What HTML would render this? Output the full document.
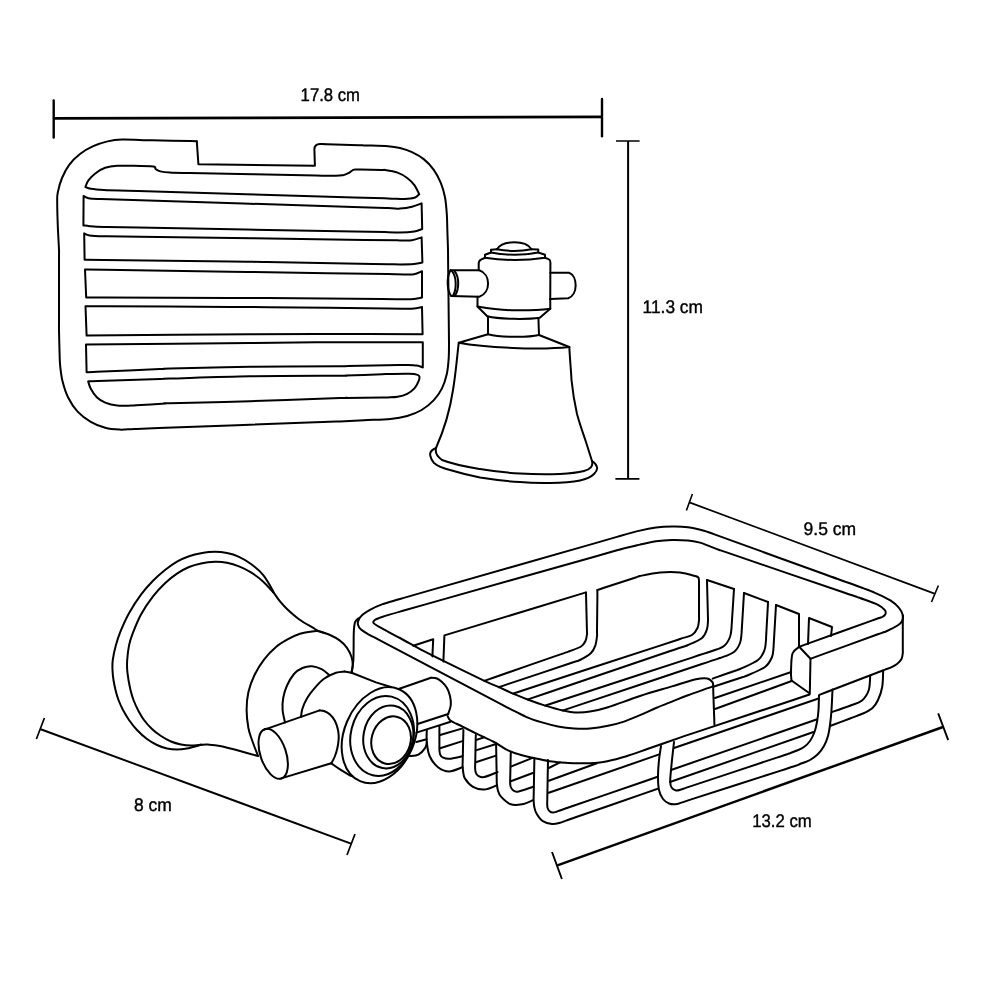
<!DOCTYPE html>
<html lang="en">
<head>
<meta charset="utf-8">
<title>Soap dish dimensions</title>
<style>
html,body{margin:0;padding:0;background:#fff;}
body{width:1000px;height:1000px;overflow:hidden;}
svg{display:block;will-change:transform;}
.l{fill:none;stroke:#000;stroke-width:2;stroke-linecap:round;stroke-linejoin:round;}
.w{fill:#fff;stroke:#000;stroke-width:2;stroke-linecap:round;stroke-linejoin:round;}
.t{font-family:"Liberation Sans",sans-serif;font-size:18.2px;fill:#000;stroke:#000;stroke-width:0.4;text-rendering:geometricPrecision;}
</style>
</head>
<body>
<svg width="1000" height="1000" viewBox="0 0 1000 1000">
<rect x="0" y="0" width="1000" height="1000" fill="#fff"/>
<!-- dimension lines -->
<g fill="none" stroke="#000" stroke-linecap="butt">
<path d="M53.7 118.4 L602 116.8" stroke-width="2.7"/>
<path d="M53.7 100.4 V137.6" stroke-width="2.4" stroke-linecap="round"/>
<path d="M602 99 V136.2" stroke-width="2.4" stroke-linecap="round"/>
<path d="M628.1 141 V478.8" stroke-width="2"/>
<path d="M616 141 H639.6 M615.4 478.8 H639.4" stroke-width="1.7"/>
<path d="M40 729 L351 843.6" stroke-width="1.95"/>
<path d="M44.4 718 L36.4 739 M355 834 L347 855" stroke-width="1.7"/>
<path d="M689.4 502.4 L934.5 593.6" stroke-width="1.7"/>
<path d="M692.4 494 L686.4 510.5 M938.4 585.5 L931.5 602" stroke-width="1.6"/>
<path d="M557.4 865.3 L943 727" stroke-width="2.45"/>
<path d="M552 852 L561.9 879 M938.2 713.3 L948.2 740.2" stroke-width="1.9"/>
</g>
<text class="t" x="300.6" y="101.4" textLength="59.4" lengthAdjust="spacingAndGlyphs">17.8 cm</text>
<text class="t" x="642.6" y="312.8" textLength="60.4" lengthAdjust="spacingAndGlyphs">11.3 cm</text>
<text class="t" x="134" y="810.6" textLength="37.9" lengthAdjust="spacingAndGlyphs">8 cm</text>
<text class="t" x="803.6" y="535.4" textLength="52.5" lengthAdjust="spacingAndGlyphs">9.5 cm</text>
<text class="t" x="752.2" y="827.1" textLength="59.6" lengthAdjust="spacingAndGlyphs">13.2 cm</text>
<!-- top view: tray -->
<path class="l" d="M196.8 141.2 C195.8 141.2 198.2 141.2 190.7 141.1 C183.3 140.9 159.5 140.5 152.1 140.3 C144.6 140.2 151 140.3 146 140.2 C141 140.1 128.4 139.4 122 139.6 C115.6 139.8 112.4 140.3 107.6 141.4 C102.8 142.5 97.8 144.1 93.2 146.2 C88.6 148.3 84 150.9 80 154 C76 157.1 72.2 160.8 69.2 164.8 C66.2 168.8 63.9 173.4 62 178 C60.1 182.6 58.6 188.4 57.8 192.4 C57 196.4 57.2 196.4 57.2 202 C57.2 207.6 57.5 218 57.8 226 C58.1 234 58.8 244.4 59 250 C59.2 255.6 59 247.9 59 259.6 C59 271.3 59 308.7 59 320.4 C59 332.1 58.9 324.4 59 330 C59.1 335.6 59.4 348 59.6 354 C59.8 360 59.7 361.4 60.2 366 C60.7 370.6 61.3 376.4 62.6 381.6 C63.9 386.8 65.5 392.2 68 397.2 C70.5 402.2 73.8 407.5 77.6 411.6 C81.4 415.7 86.2 419.1 90.8 421.8 C95.4 424.5 100.4 426.5 105.2 427.8 C110 429.1 114.8 429.4 119.6 429.6 C124.4 429.8 127.5 429.3 134 429 C140.5 428.7 128.5 429.2 158.7 428.1 C188.9 427 285.1 423.4 315.3 422.3 C345.5 421.2 331.9 421.8 340 421.4 C348.1 421 355.6 420.6 364 420.2 C372.4 419.8 383.2 419.7 390.4 419 C397.6 418.3 402 417.5 407.2 416 C412.4 414.5 417.2 412.6 421.6 410 C426 407.4 430.2 404 433.6 400.4 C437 396.8 439.8 392.8 442 388.4 C444.2 384 445.7 378.8 446.8 374 C447.9 369.2 448.2 364.6 448.6 359.6 C449 354.6 449 348.5 449 344 C449 339.5 449 346.5 448.9 332.7 C448.7 318.9 448.3 275.1 448.1 261.3 C448 247.5 448.1 254.9 448 250 C447.9 245.1 447.6 238 447.4 232 C447.2 226 447.2 219.8 446.8 214 C446.4 208.2 446 202.4 445 197.2 C444 192 442.7 187.4 440.8 182.8 C438.9 178.2 436.4 173.5 433.6 169.6 C430.8 165.7 427.6 162.3 424 159.4 C420.4 156.5 416 154.1 412 152.2 C408 150.3 404 149 400 148 C396 147 394 146.6 388 146.2 C382 145.8 368.8 145.6 364 145.4 C359.2 145.2 365.1 145.4 359 145.2 C352.8 145 333.2 144.4 327 144.2 C320.9 144 322.8 144 322 144"/>
<path class="l" d="M196.8 141.2 L198.4 164.2 L314.9 165.8 L314.4 149.5 Q314.4 144 320 143.95 L322 144"/>
<path class="l" d="M85.4 187 C85.9 185.9 86.7 182.7 88.4 180.4 C90.1 178.1 92.8 175.3 95.6 173.2 C98.4 171.1 101.6 169 105.2 167.8 C108.8 166.6 112.4 166.1 117.2 165.8 C122 165.5 128 165.7 134 165.8 C140 165.9 149.6 166.1 153.2 166.6 C156.8 167.1 154.4 168.2 155.6 169 C156.8 169.8 158 170.8 160.4 171.4 C162.8 172 165.1 172.3 170 172.6 C174.9 172.9 165.6 172.5 189.9 173 C214.3 173.5 291.7 174.9 316.1 175.4 C340.4 175.9 331.5 175.8 336 175.8 C340.5 175.8 340.9 175.6 343 175.2 C345.1 174.8 346.7 174.1 348.4 173.2 C350.1 172.3 351.8 170.4 353.2 169.8 C354.6 169.2 355.8 169.6 357 169.6 C358.2 169.6 356.3 169.6 360.4 169.6 C364.5 169.7 377.5 169.9 381.6 170 C385.7 170 382.3 169.6 385 170 C387.7 170.4 393.9 171.3 397.6 172.6 C401.3 173.9 404.4 175.9 407.2 178 C410 180.1 412.4 182.5 414.4 185.2 C416.4 187.9 418.4 192.7 419.2 194.2 M419.2 194.2 C418.4 194.8 416.8 197 414.4 197.8 C412 198.6 409.2 198.9 404.8 199 C400.4 199.1 396.5 198.7 388 198.4 C379.5 198.1 395.6 198.6 353.9 197.4 C312.3 196.2 179.7 192.2 138.1 191 C96.4 189.8 111.9 190.4 104 190 C96.1 189.6 93.9 189.3 90.8 188.8 C87.7 188.3 86.3 187.3 85.4 187"/>
<path class="l" d="M83.6 196 C84.4 196.4 86 197.7 88.4 198.2 C90.8 198.7 90.6 198.7 98 199 C105.4 199.3 90.3 198.8 132.8 200.1 C175.3 201.4 310.7 205.6 353.2 206.9 C395.7 208.2 380.2 207.7 388 208 C395.8 208.3 396 208.8 400 208.6 C404 208.4 408.4 207.7 412 206.8 C415.6 205.9 420 204 421.6 203.4 M421.6 203.4 L422.2 229 M422.2 229 C420.9 229.4 418.1 230.8 414.4 231.4 C410.7 232 404.4 232.5 400 232.6 C395.6 232.7 395.7 232.4 388 232.2 C380.3 232 395.6 232.3 353.9 231.6 C312.3 230.8 179.7 228.4 138.1 227.6 C96.4 226.9 112.1 227.2 104 227 C95.9 226.8 93 226.5 89.6 226.2 C86.2 225.9 84.4 225.5 83.4 225.4 M83.4 225.4 L83.6 196"/>
<path class="l" d="M84.2 233.4 C85.1 233.7 86.3 234.9 89.6 235.4 C92.9 235.9 95.7 236 104 236.2 C112.3 236.4 96.1 236.1 139.5 236.7 C182.9 237.3 321.1 239.3 364.5 239.9 C407.9 240.5 392.1 240.3 400 240.4 C407.9 240.5 408.4 240.7 412 240.2 C415.6 239.7 420 237.9 421.6 237.4 M421.6 237.4 L422.4 262.5 M422.4 262.5 C421 262.8 417.7 263.7 414 264 C410.3 264.3 404 264.4 400 264.4 C396 264.4 394.5 264.3 390 264.2 C385.5 264.2 393.7 264.3 373.2 263.9 C352.7 263.6 287.3 262.4 266.8 262.1 C246.3 261.7 256.1 261.8 250 261.8 C243.9 261.7 254.4 261.8 230.2 261.5 C205.9 261.2 128.7 260.3 104.4 260 C80.2 259.7 87.9 259.8 84.6 259.8 M84.6 259.8 L84.2 233.4"/>
<path class="l" d="M85 269.5 C88.3 269.6 80.6 269.4 104.8 269.8 C129 270.2 206 271.3 230.2 271.7 C254.4 272.1 243.6 271.9 250 272 C256.4 272.1 245.8 271.9 268.7 272.3 C291.6 272.6 364.4 273.8 387.3 274.1 C410.2 274.5 401.5 274.4 406 274.4 C410.5 274.4 411.3 274.7 414 274.2 C416.7 273.7 420.7 271.7 422 271.2 M422 271.2 L422 297.5 M422 297.5 C420.7 297.8 417.7 298.7 414 299 C410.3 299.3 405.3 299.2 400 299.2 C394.7 299.3 404 299.3 382 299.1 C360 298.9 290 298.3 268 298.1 C246 298 256.3 298 250 298 C243.7 298 254.4 298 230.3 297.9 C206.3 297.9 129.9 297.6 105.9 297.6 C81.9 297.5 89.5 297.5 86.2 297.5 M86.2 297.5 L85 269.5"/>
<path class="l" d="M85.5 306.2 C88.8 306.3 81.1 306.2 105.2 306.3 C129.4 306.4 206.1 306.8 230.3 306.9 C254.4 307 243.6 307 250 307 C256.4 307 245.8 307 268.7 307.2 C291.6 307.5 364.4 308.2 387.3 308.5 C410.2 308.7 401.5 308.7 406 308.7 C410.5 308.7 411.3 308.8 414 308.5 C416.7 308.2 420.7 307.2 422 307 M422 307 L422.6 334.3 M422.6 334.3 C408.8 334.2 368.8 333.9 340 333.9 C311.2 333.9 292.2 334 250 334.2 C207.8 334.5 113.8 335.4 86.6 335.6 M86.6 335.6 L85.5 306.2"/>
<path class="l" d="M86 344.5 C113.3 344.2 207.7 343.4 250 343 C292.3 342.6 311.2 342.3 340 342.2 C368.8 342.1 409 342.2 422.8 342.2 M422.8 342.2 L422.8 367.4 M422.8 367.4 C421.8 367.1 419.4 366 416.8 365.6 C414.2 365.2 410.1 365.1 407.2 365 C404.3 364.9 409 365 399.1 365.1 C389.3 365.3 357.9 365.9 348.1 366.1 C338.2 366.2 356.3 366.1 340 366.2 C323.7 366.3 278.3 366.4 250 366.8 C221.7 367.2 185 368.2 170 368.6 C155 369 172.2 368.5 160 369 C147.8 369.6 108.8 371.2 96.6 371.8 C84.4 372.3 88.3 372.1 86.6 372.2 M86.6 372.2 L86 344.5"/>
<path class="l" d="M88.2 381.4 C89.8 381.3 86 381.5 98 381.1 C110 380.7 148.2 379.3 160.2 378.9 C172.2 378.5 155 379 170 378.6 C185 378.2 221.7 376.8 250 376.3 C278.3 375.8 324 375.9 340 375.8 C356 375.7 338.7 375.8 345.8 375.6 C352.8 375.3 375.2 374.5 382.2 374.2 C389.3 374 383.4 374.1 388 374 C392.6 373.9 404.8 373.7 409.6 373.8 C414.4 373.9 415.2 374.1 416.8 374.6 C418.4 375.1 419.1 375.5 419.4 376.6 C419.7 377.7 419.4 379.2 418.6 381.2 C417.8 383.2 416.3 386.3 414.4 388.4 C412.5 390.5 410 392.4 407.2 393.8 C404.4 395.2 400.8 396.2 397.6 396.8 C394.4 397.4 390.6 397.3 388 397.4 C385.4 397.5 389.3 397.4 382.2 397.5 C375.2 397.6 352.8 397.8 345.8 397.9 C338.7 398 356 397.5 340 398 C324 398.5 278.3 400.3 250 401.2 C221.7 402.1 184.1 402.8 170 403.2 C155.9 403.6 171 403.1 165.4 403.5 C159.8 403.8 141.8 405 136.2 405.3 C130.6 405.7 134.8 405.6 131.6 405.6 C128.4 405.6 121.6 406.1 117.2 405.6 C112.8 405.1 108.6 404 105.2 402.6 C101.8 401.2 99.2 399.5 96.8 397.2 C94.4 394.9 92.2 391.4 90.8 388.8 C89.4 386.2 88.6 382.6 88.2 381.4"/>
<!-- top view: bracket -->
<path class="l" d="M450.5 270.2 L479.3 270.2 C491 274 491 293 479.3 296.75 L451.25 296"/>
<path class="l" d="M450.5 270.2 C446.6 277 446.6 290 451.25 296"/>
<path class="l" d="M452 271.2 C456.8 277 456.8 290 452.75 296"/>
<path class="l" d="M454.6 271.2 C459.4 277 459.4 290 454.6 296"/>
<path class="l" d="M550.25 272.75 L569 272.75 C578 276 578 295 568.25 298.25 L550.25 299"/>
<path class="l" d="M497 249.2 C503 240 525.5 240 531.5 249.2"/>
<path class="l" d="M497 249.2 C507 251.2 521.5 251.2 531.5 249.2"/>
<path class="l" d="M497 249.2 L491 249.8 L491 252.5 C505 255.5 524 255.5 538.25 252.5 L538.25 249.5 L531.5 249.2"/>
<path class="l" d="M491 252.5 L485 254.75 L485 257.75 C503 260.4 527 260.4 545 257.75 L545 254.75 L538.25 252.5"/>
<path class="l" d="M485 257.75 L481 259.6 Q478.7 260.8 478.7 263.5 L478.7 270.2"/>
<path class="l" d="M545 257.75 L548.5 259.2 Q550.4 260 550.4 262.5 L550.25 299"/>
<path class="l" d="M477.5 296.75 L477.5 306.5 C492 309 505 310.25 515 310.25 C528 310.4 540 310 550.25 308.75 L550.25 299"/>
<path class="l" d="M477.5 306.5 L487.25 316.25 C500 319.3 527 319.6 539.75 317.75 L550.25 308.75"/>
<path class="l" d="M488 316.4 L488 334.25 C500 337.3 527 337.8 539 335 L538.4 317.9"/>
<path class="l" d="M488 334.25 L458.75 342.8 C485 347.8 540 350.2 569.3 347"/>
<path class="l" d="M539 335 L569.3 347"/>
<path class="l" d="M458.75 342.8 C457.5 352 456 372 453 390 C450 410 444 430 436 448"/>
<path class="l" d="M569.3 347 C570 360 571 370 571.5 380 C573 395 575 405 577 414 C580 425 583 433 586 442 L592 461"/>
<path class="l" d="M436 448 C435 452 436.5 456 442 460 C455 465 468 467 480 469 C495 471.5 507 472.8 520 473.6 C535 474.5 548 474.5 560 474 C570 473.5 578 472.5 584 471 C590 469.5 593.5 466 592 461"/>
<path class="l" d="M436 448 C431 450 429.5 453 430.4 456 C431 459 432 461 434 463 C438 466.5 444 468.5 450 470 C460 473 470 475.5 480 477.6 C495 480 507 481.3 520 482 C530 483 540 483.2 550 483 C560 482.8 572 482 580 480.4 C587 479 591 477 594 474 C597 471 597.5 469 597 467 C596.5 464.5 595 463 592 461"/>
<!-- bottom view: wall flange -->
<path class="l" d="M273.8 592.8 C273.4 592 273.2 591 271.4 588 C269.6 585 266.4 578.8 263 574.8 C259.6 570.8 255 567 251 564 C247 561 243 558.6 239 556.8 C235 555 231 553.8 227 553 C223 552.2 219.3 551.8 215 551.8 C210.7 551.8 205.3 552.5 201 553.2 C196.7 553.9 193 554.8 189 556.2 C185 557.6 181 559.3 177 561.6 C173 563.9 169 566.8 165 570 C161 573.2 157 576.7 153 580.8 C149 584.9 145 589.2 141 594.6 C137 600 132.4 607.1 129 613.2 C125.6 619.3 122.8 625.8 120.6 631.2 C118.4 636.6 117.1 640.8 115.8 645.6 C114.5 650.4 113.3 655.9 112.8 660 C112.2 664.1 112.4 666.7 112.5 670 C112.6 673.3 113 676.7 113.5 680 C114 683.3 114.7 686.7 115.5 690 C116.3 693.3 117.2 696.7 118.5 700 C119.8 703.3 121.2 706.7 123 710 C124.8 713.3 126.7 716.7 129 720 C131.3 723.3 134 726.8 137 730 C140 733.2 143.7 736.5 147 739 C150.3 741.5 153.7 743.4 157 745 C160.3 746.6 163.7 747.8 167 748.5 C170.3 749.2 173.7 749.5 177 749.5 C180.3 749.5 184 749 187 748.5 C190 748 192.7 747.1 195 746.5 C197.3 745.9 200 745.1 201 744.8"/>
<path class="l" d="M273.8 592.8 C273.4 592.4 273.2 592.3 271.4 590.4 C269.6 588.5 266.4 584.4 263 581.4 C259.6 578.4 255 574.9 251 572.4 C247 569.9 243 568 239 566.4 C235 564.8 231 563.6 227 562.8 C223 562 219.3 561.7 215 561.8 C210.7 561.9 205.3 562.5 201 563.4 C196.7 564.3 193 565.3 189 567 C185 568.7 181 570.9 177 573.6 C173 576.3 169 579.4 165 583.2 C161 587 157 591.2 153 596.4 C149 601.6 144.4 608.2 141 614.4 C137.6 620.6 134.6 628.4 132.6 633.6 C130.6 638.8 129.9 641.2 129 645.6 C128.1 650 127.5 655.9 127.2 660 C126.9 664.1 127 666.7 127.2 670 C127.4 673.3 128 676.7 128.5 680 C129.1 683.3 129.7 686.7 130.5 690 C131.3 693.3 132.2 696.7 133.5 700 C134.8 703.3 136.2 706.7 138 710 C139.8 713.3 141.7 716.8 144 720 C146.3 723.2 149.2 726.3 152 729 C154.8 731.7 157.8 733.9 161 736 C164.2 738.1 167.7 740.1 171 741.5 C174.3 742.9 177.7 743.8 181 744.5 C184.3 745.2 187.7 745.5 191 745.5 C194.3 745.5 199.3 744.9 201 744.8"/>
<path class="l" d="M273.8 592.8 C274.8 594.2 277.6 598.5 279.8 601.2 C282 603.9 283.8 606 287 609 C290.2 612 294.8 616.2 299 619.2 C303.2 622.2 308.6 625.2 312 627.2 C315.4 629.2 316.2 630.1 319.2 631.4 C322.2 632.7 326.6 633.5 330 635 C333.4 636.5 336.8 638.3 339.6 640.4 C342.4 642.5 344.8 644.8 346.8 647.6 C348.8 650.4 350.6 654.2 351.6 657.2 C352.6 660.2 352.8 663.1 352.8 665.6 C352.8 668.1 351.8 671.3 351.6 672.4"/>
<path class="l" d="M201 744.8 C202.2 744.8 204.8 744.4 208 744.6 C211.2 744.8 214.7 744.9 220 746 C225.3 747.1 233.7 749.3 240 751 C246.3 752.7 255 755.2 258 756"/>
<!-- neck arcs -->
<path class="l" d="M325 633 C324 632.7 321.4 631.6 319.2 631.3 C317 631 315.2 631 312 631.4 C308.8 631.8 304 632.5 300 633.8 C296 635.1 292 637 288 639.2 C284 641.4 280 643.6 276 647 C272 650.4 267.6 654.9 264 659.6 C260.4 664.3 257 669.8 254.4 675.2 C251.8 680.6 249.7 686.2 248.4 692 C247.1 697.8 246.6 704 246.6 710 C246.6 716 247.5 723 248.4 728 C249.3 733 250.4 735.3 252 740 C253.6 744.7 257 753.3 258 756"/>
<path class="l" d="M328.8 674.6 C327.6 673.7 324.4 670.6 321.6 669.2 C318.8 667.8 315.2 666.4 312 666.2 C308.8 666 305.4 666.7 302.4 668 C299.4 669.3 296.6 671 294 674 C291.4 677 288.6 682 286.8 686 C285 690 283.9 694 283.2 698 C282.5 702 282.3 705.9 282.6 710 C282.9 714.1 284.6 720.4 285 722.5"/>
<path class="l" d="M344.4 671.6 C343 671.8 339.4 671.6 336 672.8 C332.6 674 327.6 676.2 324 678.8 C320.4 681.4 317.2 685.2 314.4 688.4 C311.6 691.6 309.2 694.6 307.2 698 C305.2 701.4 303.4 705.6 302.4 708.8 C301.4 712 301.2 715.6 301 717"/>
<path class="l" d="M344.4 671.6 L351.6 672.8 L376 682.4 L391 687"/>
<!-- left pin -->
<ellipse class="l" cx="273.2" cy="753.75" rx="12.8" ry="26.05" transform="rotate(-18.5 273.2 753.75)"/>
<path class="l" d="M264.4 729.6 L319.6 710.4"/>
<path class="l" d="M281.2 778.4 L331.2 763.3"/>
<path class="l" d="M319.6 710.4 C320.3 710.5 322.3 710.3 324 711 C325.7 711.7 328.2 712.9 330 714.6 C331.8 716.3 333.7 718.4 335 721 C336.3 723.6 337.4 727.2 338 730 C338.6 732.8 338.8 735 338.7 738 C338.6 741 338.1 744.8 337.4 748 C336.7 751.2 335.6 754.5 334.6 757 C333.6 759.5 331.8 762.2 331.2 763.3"/>
<path class="l" d="M331.2 763.3 C332.7 764.3 337 767.5 340 769.4 C343 771.3 346.8 773.6 349 774.8 C351.2 776 352.3 776.3 353 776.6"/>
<!-- rings -->
<ellipse class="l" cx="379.5" cy="735.2" rx="35.2" ry="49.9" transform="rotate(22.9 379.5 735.2)"/>
<ellipse class="l" cx="382.1" cy="735.9" rx="31.3" ry="40.4" transform="rotate(13.6 382.1 735.9)"/>
<ellipse class="l" cx="388.3" cy="736.9" rx="24.8" ry="31.7" transform="rotate(10.8 388.3 736.9)"/>
<ellipse class="l" cx="391.1" cy="740.2" rx="19.5" ry="24.1" transform="rotate(15.3 391.1 740.2)"/>
<!-- right pin -->
<path class="l" d="M398.6 689 L431 677.7"/>
<path class="l" d="M431 677.7 C432 677.8 435.2 677.8 437 678.5 C438.8 679.2 440.3 680.4 442 682 C443.7 683.6 445.7 685.7 447 688 C448.3 690.3 449.4 693.2 450 696 C450.6 698.8 451.1 702 450.8 705 C450.5 708 448.6 712.5 448.2 714"/>
<path class="l" d="M417.5 724 L448.2 714"/>
<path class="l" d="M416.4 732.6 L450.6 721.7"/>
<!-- tray rim -->
<path class="l" d="M712.8 686.4 C708.7 687.9 694.8 692.7 688 695.2 C681.2 697.7 677.3 699.5 672 701.6 C666.7 703.7 661.3 705.7 656 708 C650.7 710.3 645.3 712.9 640 715.2 C634.7 717.5 629.3 719.8 624 721.6 C618.7 723.4 613.7 724.6 608 725.8 C602.3 727 595.7 728.1 590 728.6 C584.3 729.1 579.3 728.9 574 728.5 C568.7 728.1 563.3 727.4 558 726.4 C552.7 725.4 547.3 724 542 722.4 C536.7 720.8 531.3 719.1 526 716.8 C520.7 714.5 515.5 711.6 510 708.8 C504.5 706 513.8 710.8 492.9 699.8 C472 688.8 405.6 653.8 384.7 642.8 C363.8 631.8 371.5 636 367.6 633.8 C363.7 631.6 362.6 631.1 361 629.6 C359.4 628.1 358.4 626.4 358 624.8 C357.6 623.2 357.8 621.7 358.6 620 C359.4 618.3 360.9 616.3 362.8 614.6 C364.7 612.9 366.8 611.5 370 609.8 C373.2 608.1 377 606.2 382 604.4 C387 602.6 392.6 601.2 400 599 C407.4 596.8 394.1 600.7 426.4 591.4 C458.7 582.2 561.3 552.8 593.6 543.6 C625.9 534.3 612.3 538.2 620 536 C627.7 533.8 634 532 640 530.6 C646 529.2 650.7 528.3 656 527.6 C661.3 526.9 666.7 526.6 672 526.5 C677.3 526.4 682.7 526.5 688 527.2 C693.3 527.9 698.7 529.3 704 530.8 C709.3 532.3 714.9 534.6 720 536.4 C725.1 538.2 716.8 535.2 734.5 541.6 C752.1 548 808.4 568.4 826 574.8 C843.7 581.2 832.3 577 840.5 580 C848.7 583 866.8 589.4 875 592.8 C883.2 596.1 886 597.8 890 600.2 C894 602.8 896.9 605.2 899 607.8 C901.1 610.2 902.2 613 902.8 615.2 C903.2 617.5 902.9 619.5 902 621.2 C901.1 623 900 623.9 897.5 625.5 C895 627.1 890.3 629.5 887 631 C883.7 632.5 889 630.3 877.8 634.3 C866.6 638.4 830.9 651.3 819.7 655.4 C808.5 659.5 812 658.2 810.5 658.8"/>
<path class="l" d="M714.4 724.8 C714.4 724.1 714.4 725.8 714.3 720.4 C714.1 715 713.5 697.8 713.3 692.4 C713.2 687 713.3 689.7 713.2 688 C713.1 686.3 713.6 684 712.6 682.4 C711.6 680.8 710 678.9 707.2 678.4 C704.4 677.9 701.9 677.9 696 679.2 C690.1 680.5 681.3 683.6 672 686.4 C662.7 689.2 650.7 692.5 640 696 C629.3 699.5 616.3 704.6 608 707.2 C599.7 709.8 595.5 710.7 590 711.6 C584.5 712.5 579.5 712.6 575 712.4 C570.5 712.2 567.8 711.5 562.8 710.4 C557.8 709.3 551.1 707.4 545.2 705.6 C539.3 703.8 532.9 701.5 527.6 699.5 C522.3 697.5 518 695.6 513.2 693.6 C508.4 691.6 503.6 689.3 498.8 687.2 C494 685.1 492.9 684.8 484.4 680.8 C475.9 676.8 458.1 668.1 448 663.2 C437.9 658.3 432 655.4 424 651.2 C416 647 407.4 642 400 638 C392.6 634 384 629.7 379.6 627.2 C375.2 624.7 374.4 624.2 373.6 623 C372.8 621.8 373.4 621 374.8 620 C376.2 619 377.8 618.4 382 617 C386.2 615.6 392.6 613.7 400 611.6 C407.4 609.5 394.1 613.3 426.4 604.1 C458.7 595 561.3 566.1 593.6 557 C625.9 547.8 612.3 551.6 620 549.5 C627.7 547.4 634 546 640 544.6 C646 543.2 650.7 542.1 656 541.3 C661.3 540.5 666.7 540.1 672 540 C677.3 539.9 683.3 540.1 688 540.5 C692.7 540.9 696.7 541.8 700 542.6 C703.3 543.5 704.7 544.3 708 545.6 C711.3 546.9 715.2 548.5 720 550.2 C724.8 551.9 716.3 548.9 736.8 555.9 C757.3 562.9 822.7 585.3 843.2 592.3 C863.7 599.3 854.2 595.9 860 598 C865.8 600.1 873.9 602.8 878 604.8 C882.1 606.8 883.5 608.5 884.8 610 C886 611.5 885.9 612.6 885.5 613.8 C885.1 614.9 884.7 615.6 882.5 616.8 C880.3 617.9 884.7 616 872.5 620.4 C860.3 624.8 821.5 638.8 809.2 643.1 C797 647.5 800.9 646.1 799.2 646.8"/>
<path class="l" d="M358.6 618.2 C358 618.9 355.8 620.1 355 622.4 C354.2 624.7 354 627.4 353.8 632 C353.6 636.6 353.7 645 353.6 650 C353.5 655 353.6 658.2 353.2 662 C352.8 665.8 351.7 671 351.4 672.8"/>
<!-- right corner face -->
<path class="l" d="M902.8 615.2 C902.8 616 902.8 614.2 902.8 619.8 C902.8 625.3 902.8 642.9 902.8 648.5 C902.8 654 903 651.2 902.8 653 C902.5 654.8 902.5 657.2 901.5 659 C900.5 660.8 898.9 662.5 897 664 C895.1 665.5 892.6 666.6 890 667.8 C887.4 668.9 891.9 667 881.5 671 C871.2 675 838.3 687.5 828 691.5 C817.6 695.5 820.9 694.2 819.5 694.8"/>
<!-- end cap -->
<path class="l" d="M799.2 646.8 C798.1 647.9 793.9 649.4 792.5 653.5 C791.1 657.6 791.2 667 791 671.5 C790.8 676 791.4 679 791.5 680.5"/>
<path class="l" d="M791.5 680.5 L809.8 693.5 L810.5 658.8 L799.2 646.8"/>
<!-- front rim bottom edge -->
<path class="l" d="M447.6 716 C448.1 716.8 448.4 719.1 450.8 720.8 C453.2 722.5 457.5 724.1 462 726.4 C466.5 728.7 472.7 731.8 478 734.4 C483.3 737 489 739.3 494 742 C499 744.7 503.3 748.2 508 750.4 C512.7 752.6 517.3 754 522 755.3 C526.7 756.6 531 757.3 536 758.4 C541 759.5 546.7 760.9 552 761.6 C557.3 762.4 562.7 762.6 568 762.9 C573.3 763.2 578.7 763.3 584 763.2 C589.3 763.1 594.7 763.1 600 762.4 C605.3 761.7 610.7 760.5 616 759.2 C621.3 757.9 626.7 756.1 632 754.4 C637.3 752.7 640 751.6 648 748.8 C656 746 672.1 740.3 680 737.6 C687.9 734.9 676.5 738.7 695.6 732.4 C714.6 726.1 775 706 794 699.7 C813.1 693.4 807 695.4 809.6 694.5"/>
<!-- back panels and ribs -->
<path class="l" d="M413.2 645.8 L433.2 639.2 L432.4 656.4"/>
<path class="l" d="M443.4 661.5 L444.4 635.4 L586 592.4"/>
<path class="l" d="M586 592.4 C586 593.2 586 591.3 586.1 597.4 C586.3 603.5 586.7 622.9 586.9 629 C587 635.1 587.2 632 587 634 C586.8 636 586.5 638.9 585.5 641 C584.5 643.1 583.6 644.8 581 646.5 C578.4 648.2 573.5 649.7 570 651 C566.5 652.3 572.3 650.2 559.7 654.6 C547.2 658.9 507.2 672.9 494.7 677.2 C482.1 681.6 486.1 680.2 484.4 680.8"/>
<path class="l" d="M597.4 590 C597.4 590.9 597.4 588.8 597.4 595.5 C597.3 602.3 597.1 623.7 597 630.5 C597 637.2 597.3 633.6 597 636 C596.7 638.4 596.5 642.2 595.5 645 C594.5 647.8 593.6 650.5 591 653 C588.4 655.5 583.5 658.3 580 660 C576.5 661.7 582.2 659.3 570.3 663.3 C558.3 667.3 520.5 679.9 508.5 683.9 C496.6 687.9 500.4 686.7 498.8 687.2"/>
<path class="l" d="M597.4 590 C598.3 589.7 596.3 590.4 602.5 588.3 C608.8 586.3 628.6 579.7 634.9 577.7 C641.1 575.6 635.8 576.9 640 576 C644.2 575.1 653.3 573 660 572.4 C666.7 571.8 673.8 571.7 680 572.4 C686.2 573.1 694.2 575.9 697 576.6"/>
<path class="l" d="M697 576.6 C697.3 576.8 698.3 577.3 698.6 578 C698.9 578.7 698.9 579.7 699 581 C699.1 582.3 699 580 699 585.7 C699 591.4 699 609.6 699 615.3 C699 621 699.2 617.9 699 620 C698.8 622.1 698.7 625.5 697.5 628 C696.3 630.5 694.9 633.2 692 635 C689.1 636.8 685.3 637.2 680 639 C674.7 640.8 684.4 637.5 660 645.6 C635.5 653.6 557.7 679 533.2 687 C508.8 695.1 516.5 692.5 513.2 693.6"/>
<path class="l" d="M707 580 C707 580.8 707 578.9 707.1 584.8 C707.3 590.7 707.7 609.3 707.9 615.2 C708 621.1 708.1 617.7 708 620 C707.9 622.3 708 626 707 629 C706 632 705.2 635.3 702 638 C698.8 640.7 693.5 642.7 688 645 C682.5 647.3 692.3 643.5 668.8 651.5 C645.2 659.5 570.4 685 546.8 693 C523.3 701 530.8 698.4 527.6 699.5"/>
<path class="l" d="M707 580 L734 589"/>
<path class="l" d="M734 589 C734 589.8 734.1 588 733.7 593.7 C733.3 599.4 732.2 617.6 731.8 623.3 C731.4 629 731.8 625.7 731.5 628 C731.2 630.3 731.2 634 730 637 C728.8 640 727 643.7 724 646 C721 648.3 717.3 649.1 712 651 C706.7 652.9 716.4 649.5 692 657.6 C667.5 665.6 589.7 691 565.2 699 C540.8 707.1 548.5 704.5 545.2 705.6"/>
<path class="l" d="M744 593 C744 593.8 744.1 591.9 743.7 597.9 C743.3 603.9 742.2 623.1 741.8 629.1 C741.4 635.1 741.8 631.7 741.5 634 C741.2 636.3 741.2 640 740 643 C738.8 646 737.3 649.5 734 652 C730.7 654.5 725.5 656 720 658 C714.5 660 724.2 656.6 701.1 664.3 C678.1 672 604.7 696.4 581.7 704.1 C558.6 711.8 565.9 709.4 562.8 710.4"/>
<path class="l" d="M744 593 L768 602"/>
<path class="l" d="M768 602 C768 602.8 768.1 601 767.8 606.6 C767.5 612.1 766.5 629.9 766.2 635.4 C765.9 641 766.3 637.6 766 640 C765.7 642.4 765.8 646.7 764.5 650 C763.2 653.3 762.1 656.8 758 660 C753.9 663.2 743.5 667.3 740 669 C736.5 670.7 740.7 668.7 736.7 670.2 C732.7 671.6 720.1 676 716.1 677.4 C712.1 678.9 713.3 678.4 712.8 678.6"/>
<path class="l" d="M776 605 C776 605.9 776.1 603.9 775.7 610.2 C775.3 616.5 774.2 636.5 773.8 642.8 C773.4 649.1 773.8 645.6 773.5 648 C773.2 650.4 773.4 653.8 772 657 C770.6 660.2 769.3 663.8 765 667 C760.7 670.2 749.8 674.3 746 676 C742.2 677.7 746.9 675.7 742.2 677.3 C737.5 678.8 722.5 683.8 717.8 685.3 C713.1 686.9 714.6 686.4 714 686.6"/>
<path class="l" d="M776 605 L799 614 L799 647"/>
<path class="l" d="M808 644 L809 618 L832 627 L831 636"/>
<!-- lines right of notch -->
<path class="l" d="M715 698 L791.2 672"/>
<path class="l" d="M715 709 L791.7 681"/>
<!-- front U wires -->
<path class="l" d="M416.3 742 L426.8 739.2"/>
<path class="l" d="M410 756 C411.4 755.8 415.8 756 418.4 754.6 C421 753.2 424 749.7 425.4 747.6 C426.8 745.5 426.6 742.9 426.8 742"/>
<path class="l" d="M426.8 730.1 C426.8 732.1 426.3 737.7 426.8 742 C427.3 746.3 427.7 751.8 429.6 756 C431.5 760.2 434.7 764.6 438 767.2 C441.3 769.8 445.1 771.4 449.2 771.4 C453.3 771.4 460.2 767.9 462.4 767.2"/>
<path class="l" d="M439.4 726.6 C439.4 727.1 439.4 726 439.4 729.4 C439.4 732.8 439.4 743.8 439.4 747.2 C439.4 750.6 439.3 748.8 439.4 750 C439.5 751.2 439.7 753.3 440.2 754.5 C440.7 755.7 441.1 756.7 442.6 757.4 C444.1 758.1 446.1 759 449.4 758.8 C452.7 758.6 460.2 756.7 462.4 756.3"/>
<path class="l" d="M440.1 735 L462.6 728.4"/>
<path class="l" d="M440.1 748.3 L462.4 741.1"/>
<path class="l" d="M463.4 730.1 C463.4 730.8 463.4 729.2 463.3 734.3 C463.2 739.4 462.8 755.7 462.7 760.8 C462.6 765.9 462.5 763.1 462.6 765 C462.7 766.9 462.8 769.7 463.2 772 C463.6 774.3 463.4 776.1 465 778.6 C466.6 781.1 469.8 785 473 786.8 C476.2 788.6 480.2 789.8 484.2 789.6 C488.2 789.4 494.7 786.1 496.8 785.4"/>
<path class="l" d="M475.8 735 C475.8 735.7 475.8 734.1 475.7 739 C475.6 743.8 475.3 759.2 475.2 764 C475.1 768.9 475 766.6 475.1 768 C475.2 769.4 475.3 771.3 475.8 772.6 C476.3 773.9 476.8 775.1 478.2 775.8 C479.6 776.5 481 777.6 484.2 777 C487.4 776.4 495.3 772.9 497.5 772.1"/>
<path class="l" d="M476.5 739.9 L484.2 737.2"/>
<path class="l" d="M475.8 750.4 L495.4 744.3"/>
<path class="l" d="M475.8 762.3 L496 755.6"/>
<path class="l" d="M496.1 744.8 C496.1 745.6 496.1 743.8 496.2 749.4 C496.3 755 496.6 772.8 496.7 778.4 C496.8 784 496.6 781.1 496.8 783 C497 784.9 497.1 787.7 497.8 790 C498.5 792.3 498.8 794.2 501 796.6 C503.2 799 507.3 803 510.8 804.3 C514.3 805.6 518.3 805 522 804.3 C525.7 803.6 531.3 800.8 533.2 800.1"/>
<path class="l" d="M510.8 752.5 C510.8 753.1 510.8 751.7 510.7 756 C510.6 760.4 510.3 774.1 510.2 778.5 C510.1 782.8 510 780.7 510.1 782 C510.2 783.3 510.2 785.2 510.6 786.5 C511.1 787.8 511.6 789.1 512.8 790 C514 790.9 514.4 792.2 517.8 791.7 C521.2 791.2 530.6 787.6 533.2 786.8"/>
<path class="l" d="M510.8 766.6 L532.6 757.9"/>
<path class="l" d="M510.8 781.2 L532.8 773"/>
<path class="l" d="M534.4 758.4 C534.4 759.2 534.4 757.3 534.3 763.4 C534.2 769.5 533.8 788.9 533.7 795 C533.6 801.1 533.5 798 533.6 800 C533.7 802 533.8 804.8 534.3 807 C534.8 809.2 535.1 811.2 536.5 813.5 C537.9 815.8 539.8 819 542.4 820.8 C545 822.5 549.1 823.7 552 824 C554.9 824.3 557.7 823.4 560 822.8 C562.3 822.2 563.2 821.6 566 820.6 C568.8 819.6 563.6 821.4 577 816.8 C590.4 812.1 633.2 797.3 646.6 792.6 C660 788 655.8 789.4 657.6 788.8"/>
<path class="l" d="M548 760 C548 760.9 548 758.8 547.9 765.3 C547.8 771.7 547.4 792.3 547.3 798.7 C547.2 805.2 547.1 802.5 547.2 804 C547.3 805.5 547.2 806.8 547.6 808 C548 809.2 548.7 810.5 549.6 811.2 C550.5 812 551.8 812.5 553 812.5 C554.2 812.5 554.3 812.4 557 811.5 C559.7 810.6 554.3 812.4 569.1 807.3 C583.8 802.2 630.8 786.1 645.5 781 C660.3 775.9 655.6 777.5 657.6 776.8"/>
<path class="l" d="M548.8 768 L560 762.4"/>
<path class="l" d="M548.8 780.8 L596.8 763.2"/>
<path class="l" d="M548.8 792.8 L659.2 754.4"/>
<!-- loop wire -->
<path class="l" d="M661 746 C660.7 748.3 659.5 755 659 760 C658.5 765 658 771 658 776 C658 781 658.2 786.2 659 790 C659.8 793.8 661.3 796.8 663 799 C664.7 801.2 666.7 802.7 669 803.5 C671.3 804.3 673.3 804.7 677 804 C680.7 803.3 673.9 805 691.2 799.4 C708.5 793.9 763.5 776.1 780.8 770.6 C798.1 765 791.8 767.1 795 766 C798.2 764.9 797.5 765 800 764 C802.5 763 807 761.7 810 760 C813 758.3 815.7 756.3 818 754 C820.3 751.7 822.3 749 824 746 C825.7 743 827 739.5 828 736 C829 732.5 829.4 729.3 830 725 C830.6 720.7 831.1 715.9 831.5 710 C831.9 704.1 832.3 692.9 832.5 689.5"/>
<path class="l" d="M674 742 C673.6 745.8 672.1 758.5 671.5 765 C670.9 771.5 670.2 777.2 670.2 781 C670.2 784.8 670.5 785.9 671.5 787.5 C672.5 789.1 674.4 790.1 676 790.4 C677.6 790.7 678 790.4 681 789.5 C684 788.6 678.1 790.5 694.1 785.1 C710.1 779.8 760.9 762.9 776.9 757.6 C792.9 752.2 786.7 754.4 790 753.2 C793.3 752 794.7 751.5 797 750.5 C799.3 749.5 801.8 748.6 804 747 C806.2 745.4 808.2 743.5 810 741 C811.8 738.5 813.3 735.2 814.5 732 C815.7 728.8 816.3 725.7 817 722 C817.7 718.3 818.2 714.4 818.5 710 C818.8 705.6 818.9 697.9 819 695.5"/>
<path class="l" d="M674 748 L818.5 698.5"/>
<path class="l" d="M671 770 L816.5 719.5"/>
<path class="l" d="M670 782 L813.5 732"/>
<!-- right loop -->
<path class="l" d="M832 712 C835 711 845 707.7 850 705.8 C855 703.8 858.9 703.1 862 700.5 C865.1 697.9 867.4 694.1 868.8 690 C870.1 685.9 870 678.1 870.2 675.8"/>
<path class="l" d="M830 726 C833.3 724.8 844.5 720.6 850 718.5 C855.5 716.4 859.2 715.2 863 713.5 C866.8 711.8 870 710.2 872.5 708 C875 705.8 876.4 703.5 878 700 C879.6 696.5 881.4 691.9 882.2 687 C883.1 682.1 883 673.3 883.2 670.6"/>
</svg>
</body>
</html>
